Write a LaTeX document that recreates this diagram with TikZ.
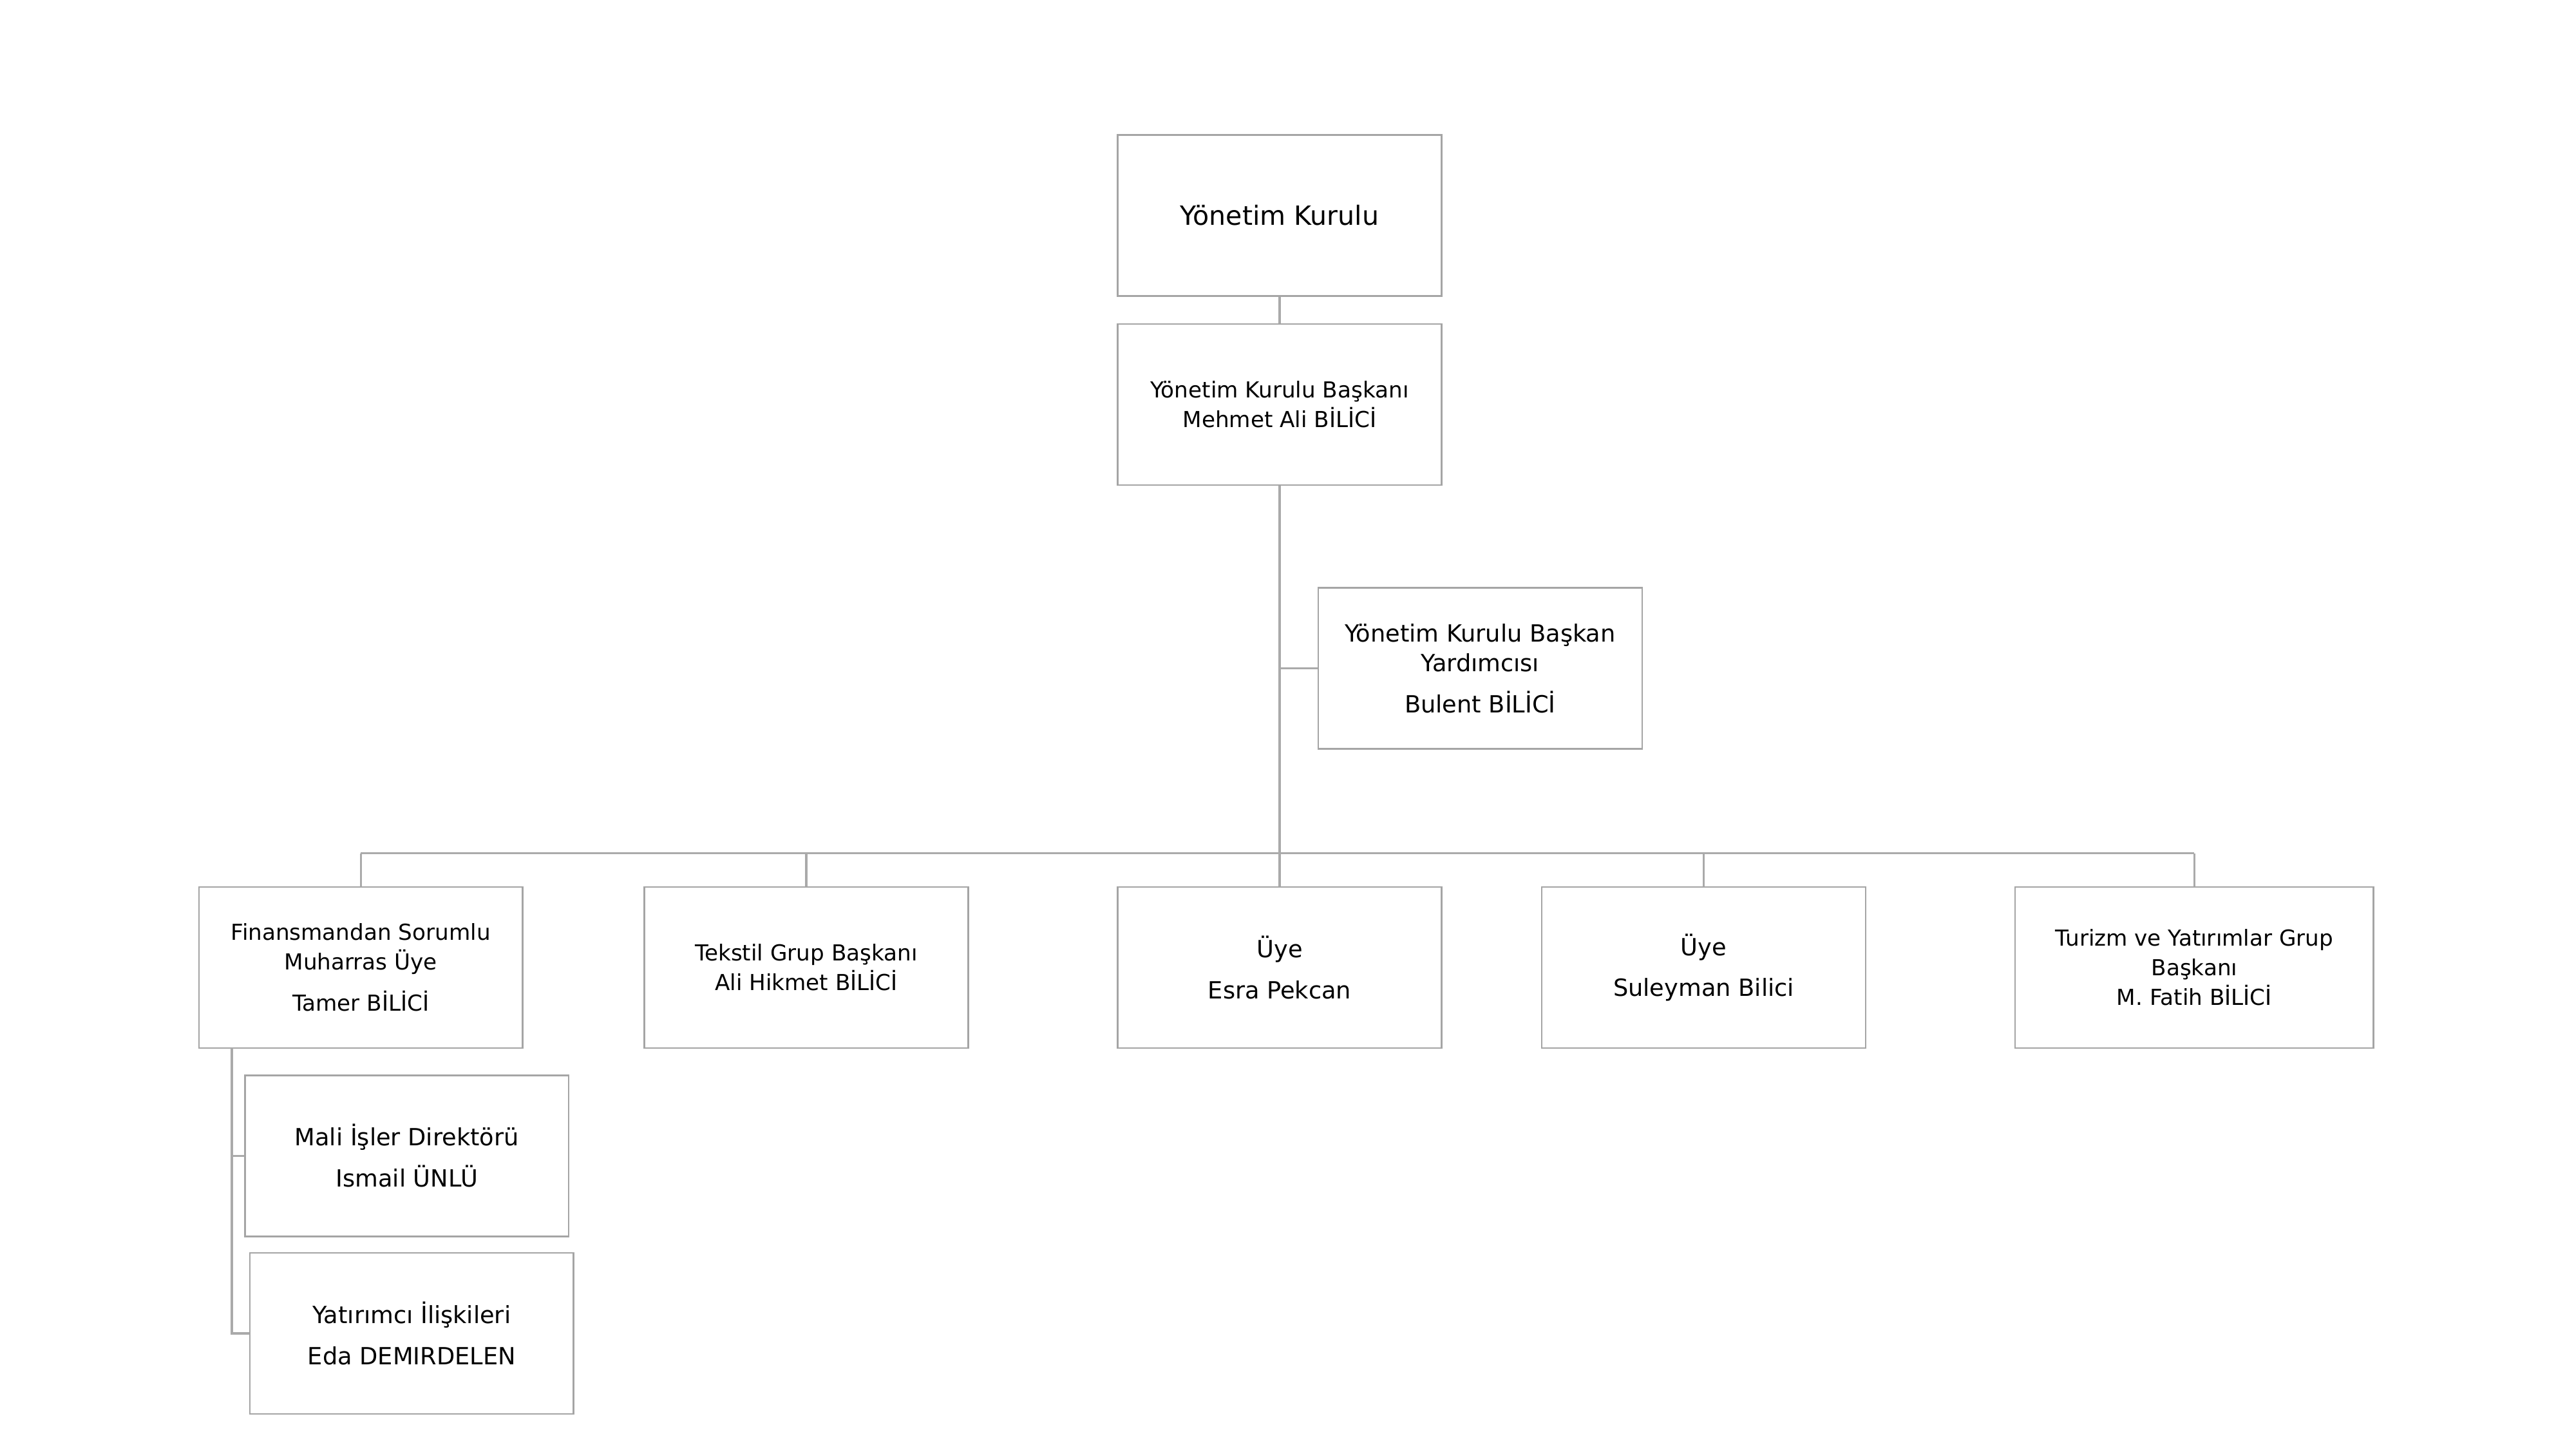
\documentclass[tikz,border=0pt]{standalone}
\usepackage{fontspec}
\setmainfont{DejaVu Sans}
\begin{document}
\begin{tikzpicture}[x=1pt,y=-1pt,
  box/.style={draw=boxgray, line width=1pt, rectangle, inner sep=0pt, align=center,
    minimum width=197pt, minimum height=98pt, text=black},
  big/.style={font=\fontsize{14.4}{18}\selectfont},
  small/.style={font=\fontsize{13.4}{18}\selectfont},
  conn/.style={draw=linegray, line width=1.3pt}]
\definecolor{boxgray}{RGB}{165,165,165}
\definecolor{linegray}{RGB}{170,170,170}
\useasboundingbox (0,0) rectangle (1567.2,881.55);
% nodes
\node[box,font=\fontsize{16.1}{20}\selectfont] (yk) at (778.5,131) {Yönetim Kurulu};
\node[box,small] (ykb) at (778.5,246) {Yönetim Kurulu Başkanı\\Mehmet Ali BİLİCİ};
\node[box,big] (vice) at (900.5,406.5) {Yönetim Kurulu Başkan\\Yardımcısı\\[7pt]Bulent BİLİCİ};
\node[box,small] (fin) at (219.5,588.5) {Finansmandan Sorumlu\\Muharras Üye\\[7pt]Tamer BİLİCİ};
\node[box,small] (tek) at (490.5,588.5) {Tekstil Grup Başkanı\\Ali Hikmet BİLİCİ};
\node[box,big] (esra) at (778.5,588.5) {Üye\\[7pt]Esra Pekcan};
\node[box,big] (sul) at (1036.5,588.5) {Üye\\[7pt]Suleyman Bilici};
\node[box,small,minimum width=218pt] (tur) at (1335,588.5) {Turizm ve Yatırımlar Grup\\Başkanı\\M. Fatih BİLİCİ};
\node[box,big] (mali) at (247.5,703) {Mali İşler Direktörü\\[7pt]Ismail ÜNLÜ};
\node[box,big] (yat) at (250.5,811) {Yatırımcı İlişkileri\\[7pt]Eda DEMIRDELEN};
% coordinates
\coordinate (busC) at (778.5,519);
\coordinate (busL) at (219.5,519);
\coordinate (busR) at (1335,519);
\coordinate (subtop) at (141,637.5);
% connectors
\draw[conn] (yk.south) -- (ykb.north);
\draw[conn] (ykb.south) -- (busC);
\draw[conn] (vice.west) -- (vice.west -| busC);
\draw[conn] (busL) -- (busR);
\draw[conn] (fin.north) -- (busL);
\draw[conn] (tek.north) -- (tek.north |- busC);
\draw[conn] (esra.north) -- (busC);
\draw[conn] (sul.north) -- (sul.north |- busC);
\draw[conn] (tur.north) -- (busR);
\draw[conn] (subtop) |- (yat.west);
\draw[conn] (mali.west) -- (mali.west -| subtop);
\end{tikzpicture}
\end{document}
